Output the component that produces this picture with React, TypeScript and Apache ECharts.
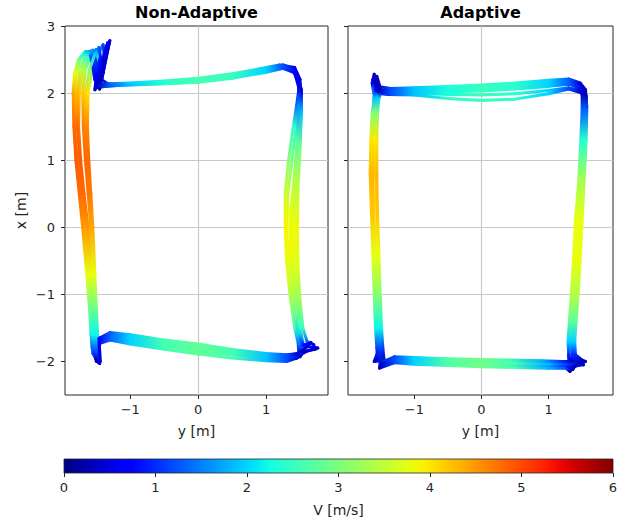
import React, { useEffect, useRef } from "react";
import * as echarts from "echarts";

// ---------- data: each point is [y (m), x (m), V (m/s)] ----------
const naLap1 = [
  [-1.47, -2.02, 0.4], [-1.55, -1.88, 1.2], [-1.57, -1.65, 2.1], [-1.58, -1.2, 2.9], [-1.62, -0.7, 3.7], [-1.67, 0, 4.4],
  [-1.73, 0.5, 4.7], [-1.78, 1, 4.8], [-1.82, 1.5, 4.7], [-1.82, 2, 4.3], [-1.79, 2.3, 3.7], [-1.74, 2.5, 2.8],
  [-1.66, 2.62, 2.0], [-1.58, 2.6, 1.4], [-1.53, 2.4, 1.0], [-1.5, 2.18, 0.6], [-1.46, 2.1, 0.4],
  [-1.35, 2.12, 1.4], [-1.1, 2.13, 2.0], [-0.6, 2.15, 2.4], [0, 2.18, 2.6], [0.5, 2.25, 2.5], [1, 2.35, 2.0],
  [1.25, 2.4, 1.3], [1.42, 2.35, 0.8], [1.5, 2.15, 0.5], [1.52, 1.95, 1.0],
  [1.5, 1.5, 2.4], [1.46, 1.0, 3.0], [1.42, 0.5, 3.5], [1.4, 0, 3.8], [1.42, -0.5, 3.8], [1.46, -1.0, 3.4],
  [1.5, -1.5, 2.6], [1.54, -1.72, 1.5], [1.52, -1.9, 0.5],
  [1.35, -1.97, 1.2], [1.0, -1.96, 1.9], [0.5, -1.9, 2.6], [0, -1.86, 2.8], [-0.5, -1.79, 2.6], [-1.0, -1.7, 2.0],
  [-1.3, -1.64, 1.3], [-1.45, -1.7, 0.7], [-1.48, -1.92, 0.4],
];
const naLap2 = [
  [-1.5, -2.0, 0.4], [-1.53, -1.85, 1.1], [-1.52, -1.6, 2.2], [-1.52, -1.2, 2.9], [-1.55, -0.7, 3.8], [-1.58, 0, 4.4],
  [-1.62, 0.5, 4.7], [-1.66, 1, 4.8], [-1.69, 1.5, 4.7], [-1.7, 2, 4.2], [-1.66, 2.35, 3.3], [-1.58, 2.55, 2.2],
  [-1.5, 2.65, 1.4], [-1.46, 2.5, 1.0], [-1.5, 2.25, 0.6], [-1.52, 2.05, 0.3],
  [-1.45, 2.2, 0.5], [-1.36, 2.55, 0.7], [-1.33, 2.75, 0.6], [-1.38, 2.6, 0.5], [-1.45, 2.3, 0.4], [-1.48, 2.12, 0.3],
  [-1.35, 2.13, 1.3], [-1.1, 2.14, 1.9], [-0.6, 2.16, 2.3], [0, 2.2, 2.6], [0.5, 2.27, 2.5], [1, 2.37, 2.0],
  [1.25, 2.42, 1.2], [1.42, 2.36, 0.7], [1.48, 2.15, 0.4],
  [1.48, 1.9, 1.2], [1.44, 1.5, 2.4], [1.38, 1.0, 3.0], [1.32, 0.5, 3.6], [1.3, 0, 3.9], [1.33, -0.5, 3.8],
  [1.38, -1.0, 3.4], [1.44, -1.5, 2.6], [1.5, -1.72, 1.5], [1.62, -1.78, 0.7], [1.76, -1.8, 0.4], [1.62, -1.84, 0.5],
  [1.5, -1.9, 0.4],
  [1.3, -1.93, 1.2], [1.0, -1.92, 1.9], [0.5, -1.86, 2.6], [0, -1.79, 2.8], [-0.5, -1.72, 2.6], [-1.0, -1.63, 2.0],
  [-1.3, -1.6, 1.3], [-1.45, -1.68, 0.7], [-1.5, -1.95, 0.4],
];
const naLap3 = [
  [-1.45, -2.03, 0.4], [-1.5, -1.88, 1.2], [-1.48, -1.6, 2.2], [-1.5, -1.2, 2.9], [-1.52, -0.7, 3.8], [-1.55, 0, 4.4],
  [-1.58, 0.5, 4.7], [-1.61, 1, 4.8], [-1.63, 1.5, 4.6], [-1.62, 2, 4.0], [-1.56, 2.35, 3.0], [-1.46, 2.6, 1.9],
  [-1.4, 2.72, 1.2], [-1.38, 2.55, 0.8], [-1.45, 2.25, 0.5], [-1.5, 2.08, 0.3],
  [-1.35, 2.1, 1.3], [-1.1, 2.12, 1.9], [-0.6, 2.14, 2.3], [0, 2.17, 2.6], [0.5, 2.23, 2.5], [1, 2.33, 2.0],
  [1.2, 2.38, 1.4], [1.4, 2.33, 0.8], [1.5, 2.1, 0.4],
  [1.5, 1.8, 1.6], [1.47, 1.3, 2.7], [1.44, 0.7, 3.3], [1.42, 0, 3.8], [1.44, -0.6, 3.7], [1.47, -1.1, 3.2],
  [1.5, -1.5, 2.5], [1.5, -1.75, 1.4], [1.48, -1.92, 0.5],
  [1.3, -1.96, 1.2], [1.0, -1.95, 1.9], [0.5, -1.9, 2.6], [0, -1.83, 2.8], [-0.5, -1.76, 2.6], [-1.0, -1.67, 2.0],
  [-1.3, -1.62, 1.3], [-1.48, -1.72, 0.7], [-1.45, -2.03, 0.4],
];
const naLap4 = [
  [-1.48, -2.0, 0.4], [-1.52, -1.82, 1.3], [-1.53, -1.6, 2.2], [-1.55, -1.2, 2.9], [-1.58, -0.7, 3.8], [-1.62, 0, 4.5],
  [-1.68, 0.5, 4.8], [-1.73, 1, 4.9], [-1.76, 1.5, 4.7], [-1.75, 2, 4.2], [-1.7, 2.35, 3.4], [-1.62, 2.55, 2.4],
  [-1.55, 2.64, 1.6], [-1.5, 2.45, 1.0], [-1.48, 2.2, 0.6], [-1.45, 2.06, 0.3],
  [-1.4, 2.3, 0.5], [-1.33, 2.65, 0.6], [-1.3, 2.78, 0.5], [-1.35, 2.55, 0.4], [-1.42, 2.2, 0.3],
  [-1.3, 2.12, 1.3], [-1.0, 2.14, 2.0], [-0.5, 2.16, 2.4], [0, 2.19, 2.6], [0.5, 2.25, 2.5], [1, 2.34, 2.0],
  [1.25, 2.39, 1.2], [1.43, 2.32, 0.7], [1.52, 2.05, 0.5],
  [1.52, 1.7, 1.9], [1.5, 1.2, 2.9], [1.47, 0.6, 3.5], [1.46, 0, 3.9], [1.47, -0.6, 3.7], [1.5, -1.1, 3.2],
  [1.54, -1.5, 2.5], [1.6, -1.7, 1.4], [1.7, -1.75, 0.6], [1.72, -1.82, 0.4], [1.55, -1.85, 0.4], [1.45, -1.95, 0.4],
  [1.3, -2.0, 1.2], [1.0, -1.99, 1.9], [0.5, -1.95, 2.6], [0, -1.89, 2.8], [-0.5, -1.82, 2.6], [-1.0, -1.74, 2.0],
  [-1.3, -1.68, 1.3], [-1.5, -1.75, 0.7], [-1.48, -2.0, 0.4],
];
const naLap5 = [
  [-1.5, -1.97, 0.4], [-1.56, -1.8, 1.3], [-1.58, -1.55, 2.3], [-1.6, -1.2, 2.9], [-1.64, -0.7, 3.8], [-1.7, 0, 4.5],
  [-1.75, 0.5, 4.8], [-1.8, 1, 4.9], [-1.83, 1.5, 4.8], [-1.84, 2, 4.4], [-1.82, 2.3, 3.8], [-1.76, 2.5, 3.0],
  [-1.68, 2.6, 2.2], [-1.6, 2.62, 1.5], [-1.56, 2.45, 1.0], [-1.52, 2.2, 0.5], [-1.48, 2.12, 0.3],
  [-1.3, 2.14, 1.4], [-1.0, 2.15, 2.0], [-0.5, 2.18, 2.4], [0, 2.22, 2.6], [0.5, 2.29, 2.5], [1, 2.38, 2.0],
  [1.2, 2.42, 1.3], [1.42, 2.38, 0.7], [1.5, 2.2, 0.4],
  [1.46, 1.9, 1.2], [1.4, 1.5, 2.4], [1.33, 1.0, 3.1], [1.28, 0.5, 3.6], [1.28, 0, 3.9], [1.3, -0.5, 3.8],
  [1.35, -1.0, 3.4], [1.42, -1.5, 2.6], [1.47, -1.72, 1.5], [1.48, -1.88, 0.5],
  [1.3, -1.9, 1.2], [1.0, -1.88, 1.9], [0.5, -1.82, 2.6], [0, -1.74, 2.8], [-0.5, -1.68, 2.6], [-1.0, -1.6, 2.0],
  [-1.3, -1.57, 1.3], [-1.45, -1.65, 0.7], [-1.5, -1.97, 0.4],
];
const naLap6 = [
  [-1.47, -1.98, 0.4], [-1.53, -1.84, 1.2], [-1.55, -1.6, 2.2], [-1.56, -1.2, 2.9], [-1.59, -0.7, 3.8], [-1.64, 0, 4.5],
  [-1.7, 0.5, 4.8], [-1.74, 1, 4.9], [-1.78, 1.5, 4.8], [-1.78, 2, 4.3], [-1.74, 2.35, 3.5], [-1.66, 2.55, 2.5],
  [-1.58, 2.63, 1.7], [-1.52, 2.5, 1.1], [-1.5, 2.25, 0.6], [-1.5, 2.1, 0.3],
  [-1.42, 2.25, 0.5], [-1.36, 2.6, 0.6], [-1.35, 2.7, 0.5], [-1.4, 2.45, 0.4], [-1.46, 2.14, 0.3],
  [-1.3, 2.12, 1.3], [-1.0, 2.13, 2.0], [-0.5, 2.15, 2.4], [0, 2.2, 2.6], [0.5, 2.26, 2.5], [1, 2.36, 2.0],
  [1.25, 2.41, 1.2], [1.45, 2.3, 0.6], [1.5, 2.0, 0.6],
  [1.49, 1.7, 1.9], [1.45, 1.2, 2.9], [1.4, 0.6, 3.5], [1.37, 0, 3.9], [1.39, -0.6, 3.7], [1.43, -1.1, 3.2],
  [1.48, -1.5, 2.5], [1.52, -1.75, 1.3], [1.5, -1.93, 0.4],
  [1.3, -1.95, 1.2], [1.0, -1.94, 1.9], [0.5, -1.88, 2.6], [0, -1.81, 2.8], [-0.5, -1.74, 2.6], [-1.0, -1.66, 2.0],
  [-1.3, -1.61, 1.3], [-1.47, -1.7, 0.7], [-1.47, -1.98, 0.4],
];
const naLap7 = [
  [-1.44, -2.0, 0.4], [-1.5, -1.85, 1.2], [-1.5, -1.6, 2.2], [-1.51, -1.2, 2.9], [-1.53, -0.7, 3.8], [-1.56, 0, 4.4],
  [-1.6, 0.5, 4.7], [-1.64, 1, 4.8], [-1.66, 1.5, 4.6], [-1.66, 2, 4.1], [-1.6, 2.35, 3.1], [-1.52, 2.58, 2.0],
  [-1.46, 2.68, 1.3], [-1.43, 2.5, 0.8], [-1.47, 2.22, 0.5], [-1.5, 2.1, 0.3],
  [-1.3, 2.11, 1.3], [-1.0, 2.12, 1.9], [-0.5, 2.14, 2.4], [0, 2.16, 2.6], [0.5, 2.22, 2.5], [1, 2.31, 2.0],
  [1.25, 2.37, 1.2], [1.42, 2.3, 0.6], [1.48, 2.08, 0.5],
  [1.48, 1.8, 1.6], [1.46, 1.3, 2.7], [1.42, 0.7, 3.4], [1.35, 0.2, 3.8], [1.35, -0.3, 3.9], [1.38, -0.8, 3.6],
  [1.43, -1.3, 2.9], [1.47, -1.6, 2.0], [1.55, -1.76, 0.8], [1.66, -1.72, 0.5], [1.58, -1.8, 0.4], [1.47, -1.88, 0.4],
  [1.3, -1.91, 1.2], [1.0, -1.9, 1.9], [0.5, -1.85, 2.6], [0, -1.77, 2.8], [-0.5, -1.7, 2.6], [-1.0, -1.62, 2.0],
  [-1.3, -1.59, 1.3], [-1.46, -1.66, 0.7], [-1.44, -2.0, 0.4],
];

const adLap1 = [
  [-1.5, -2.02, 0.3], [-1.52, -1.85, 1.0], [-1.54, -1.6, 2.0], [-1.56, -1.2, 2.8], [-1.58, -0.6, 3.6], [-1.6, 0, 4.0],
  [-1.62, 0.6, 4.3], [-1.62, 1.2, 4.1], [-1.6, 1.6, 3.4], [-1.58, 1.85, 2.4], [-1.57, 2.05, 1.2], [-1.6, 2.2, 0.5],
  [-1.56, 2.25, 0.3], [-1.5, 2.05, 0.3],
  [-1.35, 2.04, 1.2], [-1.0, 2.05, 1.9], [-0.5, 2.07, 2.3], [0, 2.09, 2.5], [0.5, 2.12, 2.4], [1.0, 2.16, 2.0],
  [1.3, 2.18, 1.3], [1.45, 2.12, 0.6], [1.52, 2.02, 0.3],
  [1.53, 1.8, 1.2], [1.52, 1.4, 2.3], [1.49, 0.8, 3.2], [1.45, 0.2, 3.7], [1.42, -0.4, 3.8], [1.4, -1.0, 3.4],
  [1.37, -1.4, 2.8], [1.35, -1.7, 2.0], [1.35, -1.9, 1.0], [1.38, -2.05, 0.3], [1.32, -2.15, 0.3],
  [1.2, -2.05, 1.0], [0.9, -2.04, 1.8], [0.4, -2.03, 2.6], [0, -2.02, 2.9], [-0.5, -2.0, 2.7], [-1.0, -1.98, 2.0],
  [-1.3, -1.97, 1.2], [-1.5, -2.02, 0.4],
];
const adLap2 = [
  [-1.55, -1.98, 0.3], [-1.56, -1.8, 1.1], [-1.58, -1.5, 2.2], [-1.6, -1.0, 3.1], [-1.62, -0.4, 3.8], [-1.64, 0.2, 4.2],
  [-1.66, 0.8, 4.3], [-1.65, 1.3, 4.0], [-1.63, 1.7, 3.1], [-1.6, 1.92, 2.0], [-1.55, 2.02, 0.8], [-1.52, 2.0, 0.3],
  [-1.35, 2.0, 1.2], [-1.0, 2.0, 1.9], [-0.5, 1.98, 2.3], [0, 1.97, 2.5], [0.5, 1.99, 2.4], [1.0, 2.04, 2.0],
  [1.3, 2.08, 1.3], [1.48, 2.04, 0.5], [1.55, 1.98, 0.3],
  [1.56, 1.75, 1.3], [1.55, 1.3, 2.4], [1.52, 0.7, 3.3], [1.48, 0.1, 3.8], [1.45, -0.5, 3.8], [1.42, -1.0, 3.4],
  [1.4, -1.4, 2.8], [1.38, -1.7, 2.0], [1.38, -1.9, 1.0], [1.45, -2.0, 0.3], [1.52, -2.05, 0.3],
  [1.3, -2.08, 1.0], [1.0, -2.08, 1.8], [0.5, -2.07, 2.6], [0, -2.06, 2.9], [-0.5, -2.04, 2.7], [-1.0, -2.02, 2.0],
  [-1.3, -2.0, 1.2], [-1.55, -1.98, 0.4],
];
const adLap3 = [
  [-1.48, -2.05, 0.3], [-1.48, -1.85, 1.0], [-1.5, -1.55, 2.1], [-1.52, -1.0, 3.0], [-1.54, -0.4, 3.7], [-1.56, 0.2, 4.1],
  [-1.58, 0.8, 4.2], [-1.58, 1.3, 3.9], [-1.56, 1.7, 3.0], [-1.54, 1.95, 1.8], [-1.55, 2.08, 0.6], [-1.62, 2.2, 0.3],
  [-1.58, 2.0, 0.3],
  [-1.4, 1.98, 1.1], [-1.0, 1.97, 1.9], [-0.5, 1.92, 2.4], [0, 1.89, 2.5], [0.5, 1.91, 2.4], [1.0, 1.99, 2.0],
  [1.3, 2.06, 1.2], [1.5, 2.0, 0.4],
  [1.52, 1.8, 1.2], [1.5, 1.3, 2.3], [1.46, 0.7, 3.3], [1.42, 0.1, 3.8], [1.38, -0.5, 3.8], [1.35, -1.0, 3.4],
  [1.32, -1.4, 2.8], [1.3, -1.7, 2.0], [1.3, -1.92, 0.9], [1.3, -2.1, 0.3], [1.4, -2.05, 0.3],
  [1.25, -2.02, 1.0], [0.9, -2.01, 1.8], [0.4, -2.0, 2.6], [0, -1.99, 2.9], [-0.5, -1.97, 2.7], [-1.0, -1.95, 2.0],
  [-1.3, -1.95, 1.2], [-1.48, -2.05, 0.4],
];
const adLap4 = [
  [-1.52, -2.1, 0.3], [-1.5, -1.88, 1.0], [-1.52, -1.5, 2.2], [-1.55, -1.0, 3.1], [-1.58, -0.4, 3.8], [-1.61, 0.2, 4.2],
  [-1.63, 0.8, 4.3], [-1.63, 1.3, 4.0], [-1.61, 1.7, 3.1], [-1.6, 1.95, 1.9], [-1.63, 2.15, 0.6], [-1.6, 2.28, 0.3],
  [-1.55, 2.1, 0.3],
  [-1.35, 2.07, 1.2], [-1.0, 2.08, 1.9], [-0.5, 2.1, 2.3], [0, 2.12, 2.5], [0.5, 2.15, 2.4], [1.0, 2.19, 2.0],
  [1.3, 2.21, 1.3], [1.47, 2.15, 0.5], [1.55, 2.05, 0.3],
  [1.57, 1.8, 1.3], [1.56, 1.3, 2.4], [1.53, 0.7, 3.3], [1.5, 0.1, 3.8], [1.47, -0.5, 3.8], [1.44, -1.0, 3.4],
  [1.41, -1.4, 2.8], [1.39, -1.7, 2.0], [1.4, -1.9, 1.0], [1.5, -1.98, 0.3], [1.55, -2.0, 0.3],
  [1.35, -2.1, 1.0], [1.0, -2.1, 1.8], [0.5, -2.09, 2.6], [0, -2.08, 2.9], [-0.5, -2.06, 2.7], [-1.0, -2.04, 2.0],
  [-1.3, -2.02, 1.2], [-1.52, -2.1, 0.4],
];
const adLap5 = [
  [-1.45, -2.0, 0.3], [-1.47, -1.8, 1.1], [-1.49, -1.5, 2.2], [-1.51, -1.0, 3.1], [-1.53, -0.4, 3.8], [-1.55, 0.2, 4.2],
  [-1.56, 0.8, 4.3], [-1.56, 1.3, 4.0], [-1.55, 1.7, 3.1], [-1.53, 1.92, 2.0], [-1.5, 2.02, 0.6],
  [-1.35, 2.02, 1.2], [-1.0, 2.03, 1.9], [-0.5, 2.04, 2.3], [0, 2.06, 2.5], [0.5, 2.09, 2.4], [1.0, 2.13, 2.0],
  [1.3, 2.16, 1.3], [1.45, 2.08, 0.5], [1.5, 1.98, 0.3],
  [1.5, 1.75, 1.3], [1.48, 1.3, 2.4], [1.45, 0.7, 3.3], [1.4, 0.1, 3.8], [1.37, -0.5, 3.8], [1.34, -1.0, 3.4],
  [1.31, -1.4, 2.8], [1.29, -1.7, 2.0], [1.3, -1.92, 0.9], [1.35, -2.0, 0.3],
  [1.2, -2.0, 1.0], [0.9, -1.99, 1.8], [0.4, -1.98, 2.6], [0, -1.97, 2.9], [-0.5, -1.96, 2.7], [-1.0, -1.94, 2.0],
  [-1.3, -1.93, 1.2], [-1.45, -2.0, 0.4],
];
const adLap6 = [
  [-1.5, -2.08, 0.3], [-1.52, -1.86, 1.0], [-1.54, -1.5, 2.2], [-1.57, -1.0, 3.1], [-1.6, -0.4, 3.8], [-1.62, 0.2, 4.2],
  [-1.64, 0.8, 4.3], [-1.64, 1.3, 4.0], [-1.62, 1.7, 3.1], [-1.58, 1.94, 1.9], [-1.55, 2.06, 0.6], [-1.58, 2.18, 0.3],
  [-1.52, 2.04, 0.3],
  [-1.35, 2.03, 1.2], [-1.0, 2.03, 1.9], [-0.5, 2.02, 2.3], [0, 2.03, 2.5], [0.5, 2.06, 2.4], [1.0, 2.1, 2.0],
  [1.3, 2.13, 1.3], [1.48, 2.1, 0.5], [1.54, 2.0, 0.3],
  [1.55, 1.8, 1.3], [1.54, 1.3, 2.4], [1.5, 0.7, 3.3], [1.46, 0.1, 3.8], [1.43, -0.5, 3.8], [1.39, -1.0, 3.4],
  [1.36, -1.4, 2.8], [1.34, -1.7, 2.0], [1.35, -1.9, 1.0], [1.42, -2.02, 0.3], [1.36, -2.12, 0.3],
  [1.25, -2.06, 1.0], [0.9, -2.06, 1.8], [0.4, -2.05, 2.6], [0, -2.04, 2.9], [-0.5, -2.02, 2.7], [-1.0, -2.0, 2.0],
  [-1.3, -1.99, 1.2], [-1.5, -2.08, 0.4],
];
const adLap7 = [
  [-1.6, -2.0, 0.3], [-1.54, -1.84, 1.0], [-1.56, -1.5, 2.2], [-1.58, -1.0, 3.1], [-1.6, -0.4, 3.8], [-1.63, 0.2, 4.2],
  [-1.65, 0.8, 4.3], [-1.64, 1.3, 4.0], [-1.62, 1.7, 3.1], [-1.6, 1.93, 1.9], [-1.58, 2.05, 0.6], [-1.55, 2.03, 0.3],
  [-1.35, 2.01, 1.2], [-1.0, 2.02, 1.9], [-0.5, 2.03, 2.3], [0, 2.04, 2.5], [0.5, 2.07, 2.4], [1.0, 2.11, 2.0],
  [1.3, 2.14, 1.3], [1.5, 2.06, 0.5], [1.56, 1.96, 0.3],
  [1.56, 1.75, 1.3], [1.54, 1.3, 2.4], [1.51, 0.7, 3.3], [1.47, 0.1, 3.8], [1.44, -0.5, 3.8], [1.4, -1.0, 3.4],
  [1.37, -1.4, 2.8], [1.35, -1.7, 2.0], [1.37, -1.9, 1.0], [1.48, -2.02, 0.3],
  [1.3, -2.04, 1.0], [1.0, -2.04, 1.8], [0.5, -2.03, 2.6], [0, -2.02, 2.9], [-0.5, -2.0, 2.7], [-1.0, -1.98, 2.0],
  [-1.3, -1.97, 1.2], [-1.6, -2.0, 0.4],
];

const nonAdaptiveLaps = [naLap1, naLap2, naLap3, naLap4, naLap5, naLap6, naLap7];
const adaptiveLaps = [adLap1, adLap2, adLap3, adLap4, adLap5, adLap6, adLap7];

const titles = ["Non-Adaptive", "Adaptive"];
const xTickValues = [-1, 0, 1];
const yTickValues = [-2, -1, 0, 1, 2, 3];
const colorbarRange = [0, 6];

// ---------- jet colormap ----------
const JET_R = [[0, 0], [0.35, 0], [0.66, 1], [0.89, 1], [1, 0.5]];
const JET_G = [[0, 0], [0.125, 0], [0.375, 1], [0.64, 1], [0.91, 0], [1, 0]];
const JET_B = [[0, 0.5], [0.11, 1], [0.34, 1], [0.65, 0], [1, 0]];
function seg(stops: number[][], t: number) {
  for (let i = 0; i < stops.length - 1; i++) {
    const [a, va] = stops[i];
    const [b, vb] = stops[i + 1];
    if (t <= b) return va + ((vb - va) * (t - a)) / (b - a);
  }
  return stops[stops.length - 1][1];
}
function jet(t: number) {
  const c = Math.max(0, Math.min(1, t));
  const r = Math.round(seg(JET_R, c) * 255);
  const g = Math.round(seg(JET_G, c) * 255);
  const b = Math.round(seg(JET_B, c) * 255);
  return `rgb(${r},${g},${b})`;
}
const VMAX = colorbarRange[1];

function flatten(laps: number[][][]) {
  const out: number[][] = [];
  laps.forEach((lap, li) => lap.forEach((p) => out.push([p[0], p[1], p[2], li])));
  return out;
}

const minus = (v: number) => String(v).replace("-", "\u2212");
const FONT = "DejaVu Sans";
const TXT = "#262626";
const GRIDC = "#c8c8c8";

export default function App() {
  const ref = useRef<HTMLDivElement>(null);
  useEffect(() => {
    if (!ref.current) return;
    const chart = echarts.init(ref.current, undefined, { renderer: "svg" });
    const naData = flatten(nonAdaptiveLaps);
    const adData = flatten(adaptiveLaps);

    const makeRender = (data: number[][]) => (params: any, api: any) => {
      const i = params.dataIndex;
      const a = data[i];
      const b = data[i + 1];
      if (!b || b[3] !== a[3]) return null;
      const p1 = api.coord([a[0], a[1]]);
      const p2 = api.coord([b[0], b[1]]);
      const stroke = new echarts.graphic.LinearGradient(
        p1[0], p1[1], p2[0] + 0.01, p2[1] + 0.01,
        [
          { offset: 0, color: jet(a[2] / VMAX) },
          { offset: 1, color: jet(b[2] / VMAX) },
        ],
        true
      );
      return {
        type: "line",
        shape: { x1: p1[0], y1: p1[1], x2: p2[0], y2: p2[1] },
        style: { stroke, lineWidth: 3, lineCap: "round" },
      };
    };

    const cbStops = [];
    for (let k = 0; k <= 40; k++) cbStops.push({ offset: k / 40, color: jet(k / 40) });

    const axisX = (gi: number, min: number, max: number) => ({
      gridIndex: gi,
      type: "value",
      min,
      max,
      name: "y [m]",
      nameLocation: "middle",
      nameGap: 29,
      nameTextStyle: { fontFamily: FONT, fontSize: 14, color: TXT },
      axisLine: { show: false, onZero: false },
      axisTick: { show: true, length: 4, inside: false, customValues: xTickValues, lineStyle: { color: TXT, width: 1 } },
      axisLabel: { customValues: xTickValues, formatter: minus, margin: 8, fontFamily: FONT, fontSize: 13, color: TXT },
      splitLine: { show: true, showMinLine: false, showMaxLine: false, lineStyle: { color: GRIDC, width: 1.2 } },
    });
    const axisY = (gi: number, labels: boolean) => ({
      gridIndex: gi,
      type: "value",
      min: -2.5,
      max: 3,
      name: labels ? "x [m]" : "",
      nameLocation: "middle",
      nameGap: 37,
      nameTextStyle: { fontFamily: FONT, fontSize: 14, color: TXT },
      axisLine: { show: false, onZero: false },
      axisTick: { show: true, length: 4, inside: false, customValues: yTickValues, lineStyle: { color: TXT, width: 1 } },
      axisLabel: { show: labels, customValues: yTickValues, formatter: minus, margin: 10, fontFamily: FONT, fontSize: 13, color: TXT },
      splitLine: { show: true, showMinLine: false, showMaxLine: false, lineStyle: { color: GRIDC, width: 1.2 } },
    });

    chart.setOption({
      animation: false,
      backgroundColor: "#ffffff",
      textStyle: { fontFamily: FONT },
      grid: [
        { left: 65, top: 26, width: 263, height: 369, show: true, borderColor: TXT, borderWidth: 1, backgroundColor: "transparent" },
        { left: 348, top: 26, width: 265, height: 369, show: true, borderColor: TXT, borderWidth: 1, backgroundColor: "transparent" },
        { left: 64, top: 459, width: 549, height: 14, show: false },
      ],
      xAxis: [
        axisX(0, -1.96, 1.91),
        axisX(1, -1.99, 1.96),
        {
          gridIndex: 2,
          type: "value",
          min: colorbarRange[0],
          max: colorbarRange[1],
          interval: 1,
          name: "V [m/s]",
          nameLocation: "middle",
          nameGap: 30,
          nameTextStyle: { fontFamily: FONT, fontSize: 14, color: TXT },
          axisLine: { show: false, onZero: false },
          axisTick: { show: true, length: 4, lineStyle: { color: TXT } },
          axisLabel: { margin: 8, fontFamily: FONT, fontSize: 13, color: TXT },
          splitLine: { show: false },
        },
      ],
      yAxis: [
        axisY(0, true),
        axisY(1, false),
        { gridIndex: 2, type: "value", min: 0, max: 1, show: false },
      ],
      graphic: [
        {
          type: "text",
          x: 196.5,
          y: 12,
          style: { text: titles[0], fontFamily: FONT, fontSize: 16, fontWeight: "bold", fill: "#000", align: "center", verticalAlign: "middle", textAlign: "center", textVerticalAlign: "middle" },
        },
        {
          type: "text",
          x: 480.5,
          y: 12,
          style: { text: titles[1], fontFamily: FONT, fontSize: 16, fontWeight: "bold", fill: "#000", align: "center", verticalAlign: "middle", textAlign: "center", textVerticalAlign: "middle" },
        },
      ],
      series: [
        {
          type: "custom",
          xAxisIndex: 0,
          yAxisIndex: 0,
          clip: true,
          encode: { x: 0, y: 1 },
          data: naData,
          renderItem: makeRender(naData),
        },
        {
          type: "custom",
          xAxisIndex: 1,
          yAxisIndex: 1,
          clip: true,
          encode: { x: 0, y: 1 },
          data: adData,
          renderItem: makeRender(adData),
        },
        {
          type: "custom",
          xAxisIndex: 2,
          yAxisIndex: 2,
          encode: { x: [0, 1] },
          data: [colorbarRange],
          renderItem: (params: any, api: any) => {
            const p0 = api.coord([api.value(0), 0]);
            const p1 = api.coord([api.value(1), 1]);
            return {
              type: "rect",
              shape: { x: p0[0], y: p1[1], width: p1[0] - p0[0], height: p0[1] - p1[1] },
              style: {
                fill: new echarts.graphic.LinearGradient(0, 0, 1, 0, cbStops),
                stroke: TXT,
                lineWidth: 0.8,
              },
            };
          },
        },
      ],
    });
    return () => chart.dispose();
  }, []);
  return <div ref={ref} style={{ position: "fixed", left: 0, top: 0, width: 631, height: 524 }} />;
}
